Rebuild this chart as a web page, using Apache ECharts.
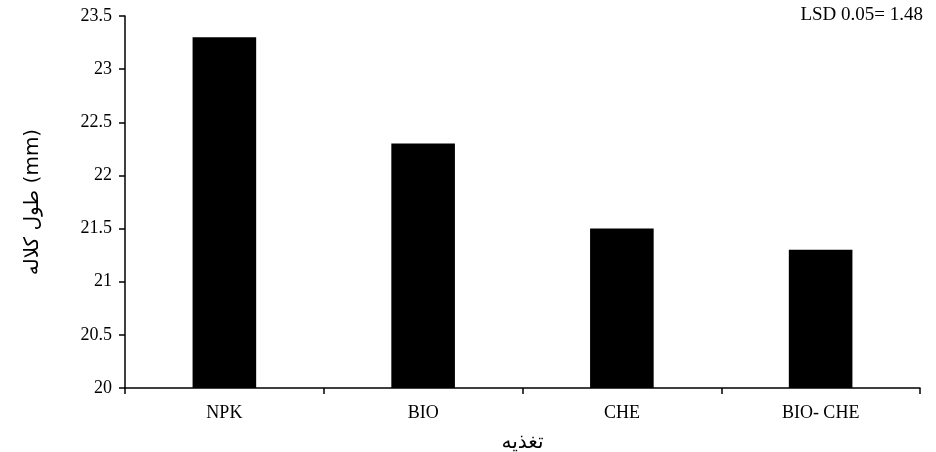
<!DOCTYPE html>
<html>
<head>
<meta charset="utf-8">
<script src="https://cdn.jsdelivr.net/npm/echarts@6/dist/echarts.min.js"></script>
<style>
    html, body { margin: 0; padding: 0; background: #fff; }
    #chart { width: 936px; height: 452px; }
</style>
</head>
<body>
<div id="chart"></div>
<script>
var categories = ['NPK', 'BIO', 'CHE', 'BIO- CHE'];
var values = [23.3, 22.3, 21.5, 21.3];
var yTicks = { min: 20, max: 23.5, interval: 0.5 };

var font = "'Liberation Serif', 'DejaVu Serif', serif";
var arabicFont = "'DejaVu Sans', 'Noto Sans', sans-serif";

var myChart = echarts.init(document.getElementById('chart'));

var option = {
    animation: false,
    title: {
        text: 'LSD 0.05= 1.48',
        right: 8,
        top: 1,
        textStyle: {
            fontFamily: font,
            fontSize: 19,
            fontWeight: 'normal',
            color: '#000'
        }
    },
    grid: {
        left: 125,
        right: 16,
        top: 16,
        bottom: 64,
        outerBoundsMode: 'none'
    },
    xAxis: {
        type: 'category',
        data: categories,
        name: 'تغذیه',
        nameLocation: 'middle',
        nameGap: 45,
        nameTextStyle: {
            fontFamily: arabicFont,
            fontSize: 20,
            color: '#000'
        },
        axisLine: { lineStyle: { color: '#000', width: 1.5 } },
        axisTick: { show: true, length: 6, lineStyle: { color: '#000', width: 1.5 } },
        axisLabel: {
            fontFamily: font,
            fontSize: 18,
            color: '#000',
            margin: 16
        }
    },
    yAxis: {
        type: 'value',
        min: yTicks.min,
        max: yTicks.max,
        interval: yTicks.interval,
        name: 'طول کلاله (mm)',
        nameLocation: 'middle',
        nameGap: 82,
        nameTextStyle: {
            fontFamily: arabicFont,
            fontSize: 20,
            color: '#000'
        },
        splitLine: { show: false },
        axisLine: { show: true, lineStyle: { color: '#000', width: 1.5 } },
        axisTick: { show: true, length: 6, lineStyle: { color: '#000', width: 1.5 } },
        axisLabel: {
            fontFamily: font,
            fontSize: 18,
            color: '#000',
            margin: 13,
            formatter: function (v) {
                return String(Math.round(v * 10) / 10);
            }
        }
    },
    series: [
        {
            type: 'bar',
            data: values,
            barWidth: '32%',
            itemStyle: { color: '#000' }
        }
    ]
};

myChart.setOption(option);
</script>
</body>
</html>
